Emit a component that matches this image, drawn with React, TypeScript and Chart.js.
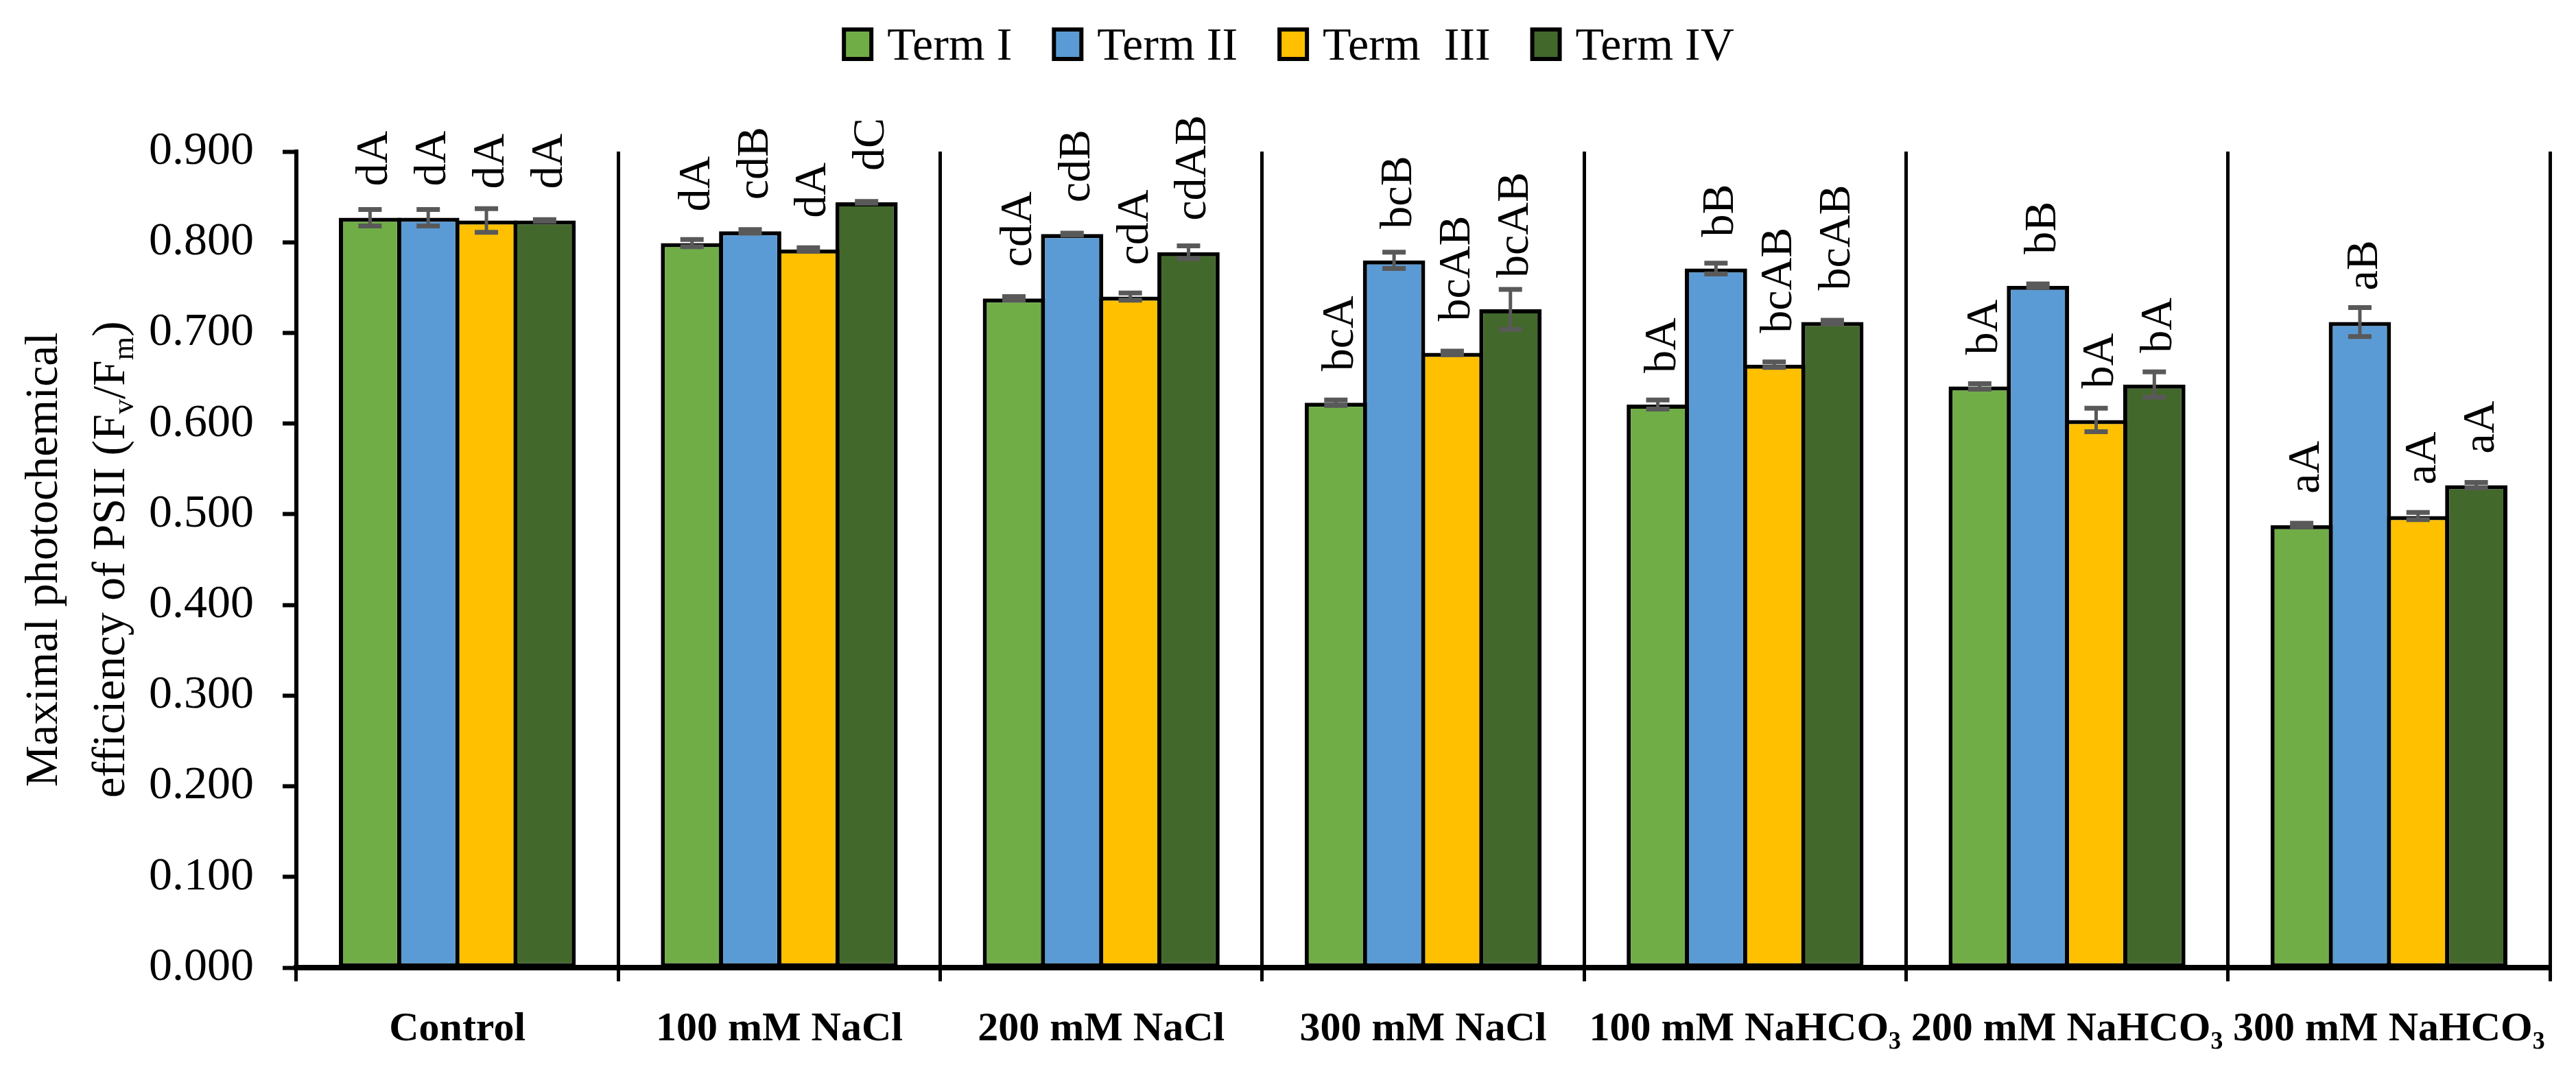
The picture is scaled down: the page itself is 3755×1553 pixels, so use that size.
import React, { useRef, useEffect } from 'react';
import {
  Chart,
  BarController, BarElement,
  CategoryScale, LinearScale,
} from 'chart.js';
import type { Plugin } from 'chart.js';

Chart.register(BarController, BarElement, CategoryScale, LinearScale);

const SERIF = '"Liberation Serif", "DejaVu Serif", serif';

const CATEGORIES = [
  'Control', '100 mM NaCl', '200 mM NaCl', '300 mM NaCl',
  '100 mM NaHCO₃', '200 mM NaHCO₃', '300 mM NaHCO₃',
];
const SERIES_NAMES = ['Term I', 'Term II', 'Term  III', 'Term IV'];
const SERIES_COLORS = ['#70AD47', '#5B9BD5', '#FFC000', '#43682B'];

// means
const TERM_1 = [0.827, 0.799, 0.738, 0.623, 0.621, 0.641, 0.488];
const TERM_2 = [0.827, 0.812, 0.809, 0.780, 0.771, 0.752, 0.712];
const TERM_3 = [0.824, 0.792, 0.740, 0.678, 0.665, 0.604, 0.498];
const TERM_4 = [0.824, 0.844, 0.789, 0.726, 0.712, 0.643, 0.532];

// standard errors
const ERR_1 = [0.009, 0.004, 0.002, 0.003, 0.005, 0.003, 0.002];
const ERR_2 = [0.009, 0.002, 0.001, 0.009, 0.006, 0.002, 0.016];
const ERR_3 = [0.013, 0.002, 0.004, 0.002, 0.003, 0.013, 0.004];
const ERR_4 = [0.001, 0.001, 0.007, 0.022, 0.002, 0.014, 0.003];

// significance letters
const LETTERS_1 = ['dA', 'dA', 'cdA', 'bcA', 'bA', 'bA', 'aA'];
const LETTERS_2 = ['dA', 'cdB', 'cdB', 'bcB', 'bB', 'bB', 'aB'];
const LETTERS_3 = ['dA', 'dA', 'cdA', 'bcAB', 'bcAB', 'bA', 'aA'];
const LETTERS_4 = ['dA', 'dC', 'cdAB', 'bcAB', 'bcAB', 'bA', 'aA'];

const Y_MIN = 0;
const Y_MAX = 0.9;
const Y_STEP = 0.1;

// y title, [text, subscript?]
const Y_TITLE_LINES: [string, boolean][][] = [
  [['Maximal photochemical', false]],
  [['efficiency of PSII (F', false], ['v', true], ['/F', false], ['m', true], [')', false]],
];

const MEANS = [TERM_1, TERM_2, TERM_3, TERM_4];
const ERRORS = [ERR_1, ERR_2, ERR_3, ERR_4];
const LETTERS = [LETTERS_1, LETTERS_2, LETTERS_3, LETTERS_4];

const W = 3755;
const H = 1553;

const errorAndLetters: Plugin<'bar'> = {
  id: 'errorAndLetters',
  afterDatasetsDraw(chart) {
    const { ctx } = chart;
    const y = chart.scales.y;
    chart.data.datasets.forEach((ds, i) => {
      const meta = chart.getDatasetMeta(i);
      meta.data.forEach((bar, j) => {
        const v = ds.data[j] as number;
        const e = ERRORS[i][j];
        const x = bar.x;
        const hi = y.getPixelForValue(v + e);
        const lo = y.getPixelForValue(v - e);
        ctx.save();
        ctx.strokeStyle = '#595959';
        ctx.lineWidth = 5;
        ctx.beginPath();
        ctx.moveTo(x, hi);
        ctx.lineTo(x, lo);
        ctx.stroke();
        ctx.lineWidth = 7;
        ctx.beginPath();
        ctx.moveTo(x - 17, hi);
        ctx.lineTo(x + 17, hi);
        ctx.moveTo(x - 17, lo);
        ctx.lineTo(x + 17, lo);
        ctx.stroke();

        const top = y.getPixelForValue(v) - 46;
        ctx.translate(x, top);
        ctx.rotate(-Math.PI / 2);
        ctx.fillStyle = '#000';
        ctx.font = `66px ${SERIF}`;
        ctx.textAlign = 'left';
        ctx.textBaseline = 'alphabetic';
        ctx.fillText(LETTERS[i][j], 0, 25);
        ctx.restore();
      });
    });
  },
};

const titleAndLegend: Plugin<'bar'> = {
  id: 'titleAndLegend',
  afterDraw(chart) {
    const { ctx, chartArea } = chart;

    // rotated y title
    const cy = (chartArea.top + chartArea.bottom) / 2;
    const baselines = [83, 181];
    Y_TITLE_LINES.forEach((line, k) => {
      ctx.save();
      ctx.translate(baselines[k], cy);
      ctx.rotate(-Math.PI / 2);
      ctx.fillStyle = '#000';
      ctx.textBaseline = 'alphabetic';
      ctx.textAlign = 'left';
      const fontFor = (sub: boolean) => `${sub ? 44 : 68}px ${SERIF}`;
      let total = 0;
      line.forEach(([t, sub]) => {
        ctx.font = fontFor(sub);
        total += ctx.measureText(t).width;
      });
      let px = -total / 2;
      line.forEach(([t, sub]) => {
        ctx.font = fontFor(sub);
        ctx.fillText(t, px, sub ? 13 : 0);
        px += ctx.measureText(t).width;
      });
      ctx.restore();
    });

    // legend
    ctx.save();
    ctx.font = `68px ${SERIF}`;
    ctx.textBaseline = 'alphabetic';
    ctx.textAlign = 'left';
    const boxW = 46, boxH = 49, gapText = 20, gapItem = 58;
    const widths = SERIES_NAMES.map(n => boxW + gapText + ctx.measureText(n).width);
    const totalW = widths.reduce((a, b) => a + b, 0) + gapItem * (widths.length - 1);
    let lx = chart.width / 2 - totalW / 2;
    SERIES_NAMES.forEach((name, i) => {
      ctx.fillStyle = SERIES_COLORS[i];
      ctx.fillRect(lx + 3, 43, boxW - 6, boxH - 6);
      ctx.strokeStyle = '#000';
      ctx.lineWidth = 6;
      ctx.strokeRect(lx + 3, 43, boxW - 6, boxH - 6);
      ctx.fillStyle = '#000';
      ctx.fillText(name, lx + boxW + gapText, 87);
      lx += widths[i] + gapItem;
    });
    ctx.restore();
  },
};

export default function App() {
  const canvasRef = useRef<HTMLCanvasElement>(null);

  useEffect(() => {
    const canvas = canvasRef.current;
    if (!canvas) return;

    const chart = new Chart(canvas, {
      type: 'bar',
      data: {
        labels: CATEGORIES,
        datasets: MEANS.map((d, i) => ({
          label: SERIES_NAMES[i],
          data: d,
          backgroundColor: SERIES_COLORS[i],
          borderColor: '#000',
          borderWidth: 6,
          borderSkipped: false,
          categoryPercentage: 0.723,
          barPercentage: 1.07,
        })),
      },
      options: {
        animation: false,
        responsive: true,
        maintainAspectRatio: false,
        layout: { padding: { top: 221, right: 38, bottom: 0, left: 0 } },
        plugins: {
          legend: { display: false },
          tooltip: { enabled: false },
        },
        scales: {
          x: {
            offset: true,
            afterFit: s => { s.height = 142; },
            grid: {
              offset: true,
              drawOnChartArea: true,
              color: '#000',
              lineWidth: 5,
              tickLength: 20,
            },
            border: { display: true, color: '#000', width: 8 },
            ticks: {
              color: '#000',
              font: { family: SERIF, size: 60, weight: 'bold' },
              padding: 34,
              maxRotation: 0,
              minRotation: 0,
              autoSkip: false,
            },
          },
          y: {
            min: Y_MIN,
            max: Y_MAX,
            afterFit: s => { s.width = 432; },
            grid: {
              drawOnChartArea: false,
              drawTicks: true,
              tickLength: 20,
              tickWidth: 6,
              tickColor: '#000',
            },
            border: { display: true, color: '#000', width: 6 },
            ticks: {
              stepSize: Y_STEP,
              color: '#000',
              font: { family: SERIF, size: 68 },
              padding: 42,
              callback: v => Number(v).toFixed(3),
            },
          },
        },
      },
      plugins: [errorAndLetters, titleAndLegend],
    });

    return () => {
      chart.destroy();
    };
  }, []);

  return (
    <div style={{ position: 'fixed', left: 0, top: 0, width: W, height: H, background: '#fff' }}>
      <canvas ref={canvasRef} />
    </div>
  );
}
